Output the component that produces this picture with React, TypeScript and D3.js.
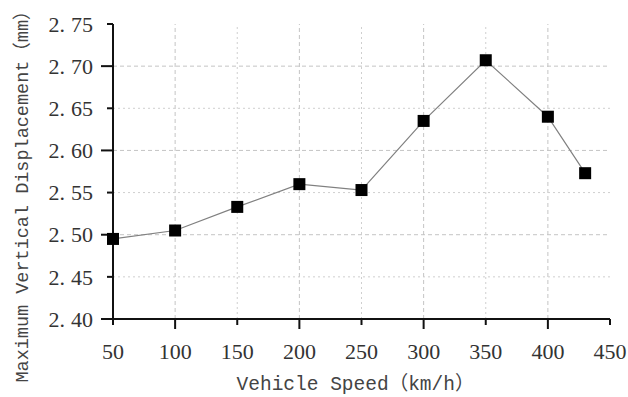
import * as d3 from 'd3';

const speeds = [50, 100, 150, 200, 250, 300, 350, 400, 430];
const displacement = [2.495, 2.505, 2.533, 2.56, 2.553, 2.635, 2.707, 2.64, 2.573];
const xTicks = [50, 100, 150, 200, 250, 300, 350, 400, 450];
const yTicks = [2.4, 2.45, 2.5, 2.55, 2.6, 2.65, 2.7, 2.75];

const W = 628;
const H = 397;
const margin = { top: 24, right: 18, bottom: 78, left: 113 };

export default function App() {
  const x = d3.scaleLinear().domain([50, 450]).range([margin.left, W - margin.right]);
  const y = d3.scaleLinear().domain([2.4, 2.75]).range([H - margin.bottom, margin.top]);

  const line = d3
    .line<number>()
    .x((_, i) => x(speeds[i]))
    .y((d) => y(d));

  // majors on the hundreds / tenths
  const isMajorX = (v: number) => v % 100 === 0;
  const isMajorY = (v: number) => Math.round(v * 100) % 10 === 0;

  const x0 = x(50);
  const y0 = y(2.4);

  return (
    <svg
      width={W}
      height={H}
      style={{ position: 'absolute', left: 0, top: 0, background: '#fff' }}
    >
      {/* grid */}
      {xTicks
        .filter((v) => v > 50 && v < 450)
        .map((v) => (
          <line
            key={'gx' + v}
            x1={x(v)}
            x2={x(v)}
            y1={y0}
            y2={y(2.75)}
            stroke={isMajorX(v) ? '#c4c4c4' : '#cfcfcf'}
            strokeWidth={1}
            strokeDasharray={isMajorX(v) ? '4,3' : '2,3'}
          />
        ))}
      {yTicks
        .filter((v) => v > 2.4 && v < 2.75)
        .map((v) => (
          <line
            key={'gy' + v}
            x1={x0}
            x2={x(450)}
            y1={y(v)}
            y2={y(v)}
            stroke={isMajorY(v) ? '#c4c4c4' : '#cfcfcf'}
            strokeWidth={1}
            strokeDasharray={isMajorY(v) ? '4,3' : '2,3'}
          />
        ))}

      {/* axes */}
      <line x1={x0} x2={x(450)} y1={y0} y2={y0} stroke="#111" strokeWidth={2} />
      <line x1={x0} x2={x0} y1={y0} y2={y(2.75)} stroke="#111" strokeWidth={2} />

      {xTicks.map((v) => (
        <g key={'tx' + v}>
          <line
            x1={x(v)}
            x2={x(v)}
            y1={y0}
            y2={y0 + (isMajorX(v) ? 10 : 6)}
            stroke="#111"
            strokeWidth={2}
          />
          <text
            x={x(v)}
            y={y0 + 40}
            textAnchor="middle"
            fontFamily="'Liberation Serif', serif"
            fontSize={22}
            fill="#333"
          >
            {v}
          </text>
        </g>
      ))}

      {yTicks.map((v) => (
        <g key={'ty' + v}>
          <line
            x1={x0 - (isMajorY(v) ? 12 : 6)}
            x2={x0}
            y1={y(v)}
            y2={y(v)}
            stroke="#111"
            strokeWidth={2}
          />
          <text
            x={x0 - 20}
            y={y(v)}
            dy="0.35em"
            textAnchor="end"
            fontFamily="'Liberation Serif', serif"
            fontSize={22}
            fill="#333"
          >
            {d3.format('.2f')(v).split('.')[0]}.
            <tspan dx={6}>{d3.format('.2f')(v).split('.')[1]}</tspan>
          </text>
        </g>
      ))}

      {/* series */}
      <path d={line(displacement) ?? ''} fill="none" stroke="#808080" strokeWidth={1.2} />
      {displacement.map((d, i) => (
        <rect
          key={'m' + i}
          x={x(speeds[i]) - 6}
          y={y(d) - 6}
          width={12}
          height={12}
          fill="#000"
        />
      ))}

      {/* axis titles */}
      <text
        x={(x0 + x(450)) / 2 - 6}
        y={390}
        textAnchor="middle"
        fontFamily="'Liberation Mono', 'Noto Sans CJK SC', monospace"
        fontSize={19.5}
        fill="#444"
      >
        Vehicle Speed（km/h）
      </text>
      <text
        transform={`translate(28,${(y0 + 5) / 2 + 30}) rotate(-90)`}
        textAnchor="middle"
        fontFamily="'Liberation Mono', 'Noto Sans CJK SC', monospace"
        fontSize={18.5}
        fill="#444"
      >
        Maximum Vertical Displacement（mm）
      </text>
    </svg>
  );
}
